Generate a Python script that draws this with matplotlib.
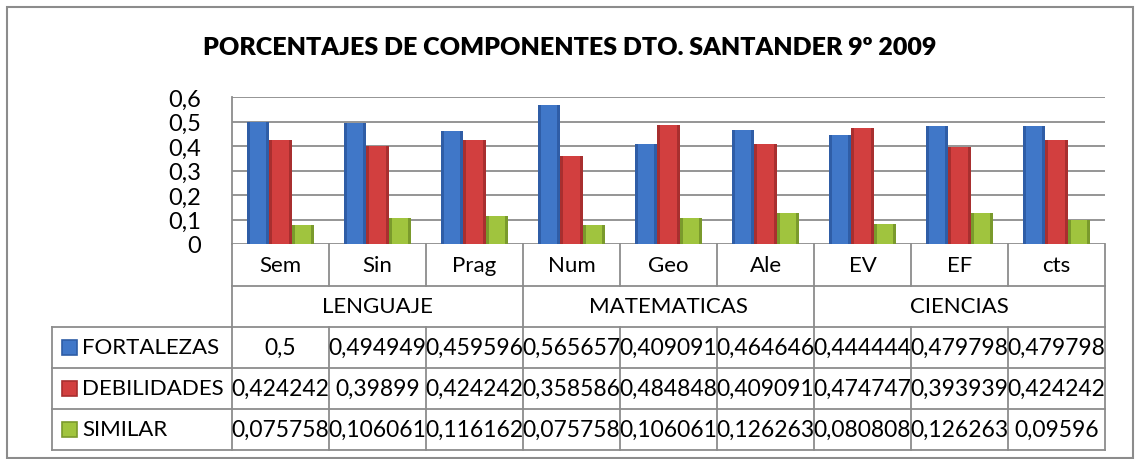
import matplotlib
matplotlib.use("Agg")
import matplotlib.pyplot as plt
import numpy as np
from matplotlib.patches import Rectangle

plt.rcParams["font.family"] = ["Lato", "DejaVu Sans"]

# data
title = "PORCENTAJES DE COMPONENTES DTO. SANTANDER 9º 2009"
categories = ["Sem", "Sin", "Prag", "Num", "Geo", "Ale", "EV", "EF", "cts"]
groups = ["LENGUAJE", "MATEMATICAS", "CIENCIAS"]
group_size = [3, 3, 3]
series = ["FORTALEZAS", "DEBILIDADES", "SIMILAR"]
fortalezas = [0.5, 0.494949, 0.459596, 0.565657, 0.409091, 0.464646, 0.444444, 0.479798, 0.479798]
debilidades = [0.424242, 0.39899, 0.424242, 0.358586, 0.484848, 0.409091, 0.474747, 0.393939, 0.424242]
similar = [0.075758, 0.106061, 0.116162, 0.075758, 0.106061, 0.126263, 0.080808, 0.126263, 0.09596]
yticks = [0, 0.1, 0.2, 0.3, 0.4, 0.5, 0.6]

colors = ["#4077c8", "#d23f3f", "#a0c43e"]
darks = ["#2f5da6", "#a82f2f", "#7a9a2c"]
grid_c = "#8c8c8c"

W, H = 1139, 460
fig = plt.figure(figsize=(W / 100, H / 100), dpi=100)

# plot area in pixel coordinates
px0, px1, py_top, py_bot = 232, 1105, 98, 245
ax = fig.add_axes([px0 / W, 1 - py_bot / H, (px1 - px0) / W, (py_bot - py_top) / H])
x = np.arange(len(categories))
bw = 0.232
for i, vals in enumerate([fortalezas, debilidades, similar]):
    # darker bevelled edge, lighter face
    ax.bar(x + (i - 1) * bw, vals, bw, color=darks[i], linewidth=0, zorder=3)
    ax.bar(x + (i - 1) * bw, vals, bw * 0.74, color=colors[i], linewidth=0, zorder=4)
ax.set_xlim(-0.5, len(categories) - 0.5)
ax.set_ylim(0, 0.6)
ax.set_yticks(yticks)
ax.set_yticklabels([("%g" % v).replace(".", ",") for v in yticks], fontsize=17)
ax.tick_params(axis="y", length=0, pad=22)
ax.set_xticks([])
ax.yaxis.grid(True, color=grid_c, linewidth=1.3, zorder=0)
for s in ["top", "right", "bottom"]:
    ax.spines[s].set_visible(False)
ax.spines["left"].set_color(grid_c)
ax.spines["left"].set_linewidth(1.3)

# overlay for table in pixel coords
ov = fig.add_axes([0, 0, 1, 1], zorder=5)
ov.set_xlim(0, W)
ov.set_ylim(H, 0)
ov.axis("off")
ov.patch.set_alpha(0)

# outer frame
ov.add_patch(Rectangle((7, 8), 1126, 451, fill=False, edgecolor="#8c8c8c", linewidth=1.5))
ov.text(570, 48, title, ha="center", va="center", fontsize=18, fontweight="heavy")

lw = 1.3
colw = (px1 - px0) / len(categories)
edges_x = [px0 + i * colw for i in range(len(categories) + 1)]
r_cat, r_grp, r_ser = 245, 287, 328
row_h = 41
t_left = 52
t_bot = r_ser + row_h * len(series)

# category row
for i, c in enumerate(categories):
    ov.text((edges_x[i] + edges_x[i + 1]) / 2, (r_cat + r_grp) / 2, c, ha="center", va="center", fontsize=16)
for xe in edges_x:
    ov.plot([xe, xe], [r_cat, r_grp], color=grid_c, lw=lw)
# group row
k = 0
for g, n in zip(groups, group_size):
    ov.text((edges_x[k] + edges_x[k + n]) / 2, (r_grp + r_ser) / 2, g, ha="center", va="center", fontsize=16)
    ov.plot([edges_x[k], edges_x[k]], [r_grp, r_ser], color=grid_c, lw=lw)
    k += n
ov.plot([edges_x[-1], edges_x[-1]], [r_grp, r_ser], color=grid_c, lw=lw)
ov.plot([px0, px1], [r_grp, r_grp], color=grid_c, lw=lw)

# series rows
for j in range(len(series) + 1):
    y = r_ser + j * row_h
    ov.plot([t_left, px1], [y, y], color=grid_c, lw=lw)
for xe in [t_left] + edges_x:
    ov.plot([xe, xe], [r_ser, t_bot], color=grid_c, lw=lw)


def fmt(v):
    return ("%.6f" % v).rstrip("0").replace(".", ",")


for j, (name, vals) in enumerate(zip(series, [fortalezas, debilidades, similar])):
    yc = r_ser + j * row_h + row_h / 2
    ov.add_patch(Rectangle((62, yc - 7.5), 15, 15, facecolor=colors[j], edgecolor=darks[j], linewidth=1.2))
    ov.text(82, yc, name, ha="left", va="center", fontsize=16)
    for i, v in enumerate(vals):
        ov.text((edges_x[i] + edges_x[i + 1]) / 2, yc, fmt(v), ha="center", va="center", fontsize=16.5)

fig.savefig("out.png", dpi=100)
